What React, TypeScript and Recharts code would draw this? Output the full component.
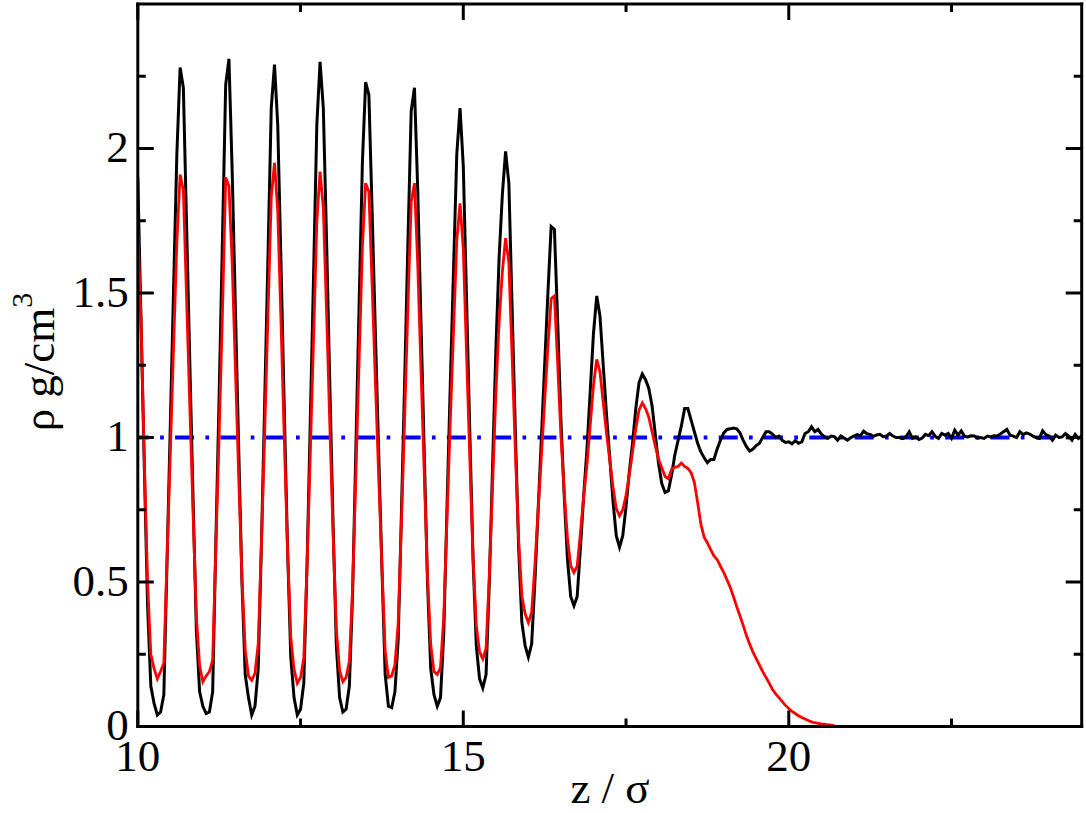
import React from "react";
import { LineChart, Line, XAxis, YAxis } from "recharts";

// sampling grid of the profile (z in units of sigma)
const zStart = 10;
const zStep = 0.05;

// total density, black curve (z = 10.00 ... 24.50)
const totalDensity = [
  1.9, 1.4, 0.9, 0.42, 0.14, 0.08, 0.04, 0.05, 0.11, 0.58,
  1.05, 1.52, 1.98, 2.28, 2.21, 1.73, 1.25, 0.78, 0.33, 0.12,
  0.07, 0.045, 0.05, 0.12, 0.65, 1.15, 1.68, 2.22, 2.31, 1.92,
  1.44, 0.96, 0.5, 0.18, 0.1, 0.04, 0.07, 0.2, 0.64, 1.13,
  1.63, 2.14, 2.29, 2.08, 1.6, 1.1, 0.62, 0.24, 0.1, 0.04,
  0.06, 0.15, 0.56, 1.06, 1.56, 2.08, 2.3, 2.14, 1.68, 1.18,
  0.7, 0.28, 0.1, 0.05, 0.06, 0.14, 0.46, 0.96, 1.46, 1.95,
  2.23, 2.185, 1.78, 1.36, 0.95, 0.55, 0.18, 0.07, 0.065, 0.12,
  0.3, 0.74, 1.2, 1.68, 2.13, 2.21, 1.86, 1.4, 0.95, 0.5,
  0.2, 0.11, 0.07, 0.1, 0.32, 0.76, 1.18, 1.58, 1.98, 2.14,
  1.94, 1.48, 1.02, 0.58, 0.28, 0.165, 0.133, 0.18, 0.5, 0.9,
  1.3, 1.62, 1.84, 1.99, 1.88, 1.45, 1.02, 0.62, 0.36, 0.28,
  0.24, 0.285, 0.5, 0.75, 1.0, 1.25, 1.5, 1.73, 1.72, 1.4,
  1.06, 0.8, 0.58, 0.45, 0.418, 0.45, 0.62, 0.8, 0.96, 1.16,
  1.36, 1.49, 1.42, 1.25, 1.08, 0.93, 0.78, 0.66, 0.62, 0.66,
  0.76, 0.88, 0.98, 1.1, 1.19, 1.22, 1.2, 1.17, 1.11, 1.01,
  0.91, 0.84, 0.81, 0.815, 0.87, 0.94, 0.99, 1.04, 1.1, 1.1,
  1.06, 1.02, 0.98, 0.95, 0.93, 0.913, 0.924, 0.924, 0.96, 0.99,
  1.015, 1.028, 1.03, 1.033, 1.03, 1.016, 0.99, 0.968, 0.953, 0.96,
  0.972, 0.98, 1.0, 1.02, 1.02, 1.012, 1.0, 1.005, 0.99, 0.983,
  0.985, 0.978, 0.989, 0.98, 0.985, 1.014, 1.02, 1.037, 1.02, 1.028,
  1.012, 1.002, 0.997, 1.005, 1.003, 0.991, 1.005, 0.998, 0.991, 0.999,
  1.005, 1.01, 1.006, 1.022, 1.013, 1.011, 1.004, 1.009, 1.011, 1.003,
  1.005, 1.014, 1.005, 1.0, 1.0, 0.996, 1.002, 1.02, 0.997, 1.002,
  0.993, 0.998, 1.011, 1.006, 1.02, 1.004, 0.997, 1.014, 1.008, 1.014,
  0.997, 1.025, 1.008, 1.023, 1.004, 1.002, 1.006, 1.005, 0.998, 1.0,
  0.997, 1.005, 1.002, 1.006, 1.005, 1.012, 1.02, 1.028, 1.008, 1.005,
  1.0, 1.02, 1.01, 1.016, 1.012, 1.005, 1.0, 0.997, 1.023, 1.01,
  1.005, 0.991, 1.008, 1.0, 1.002, 1.014, 1.005, 0.991, 1.011, 0.997,
  1.005,
];

// red curve, ends where it reaches zero (z = 10.00 ... 20.70)
const solidDensity = [
  1.72, 1.4, 0.92, 0.5, 0.25, 0.2, 0.165, 0.19, 0.22, 0.586,
  0.952, 1.318, 1.676, 1.91, 1.855, 1.478, 1.101, 0.732, 0.379, 0.21,
  0.155, 0.175, 0.19, 0.23, 0.626, 1.016, 1.429, 1.9, 1.87, 1.602,
  1.234, 0.866, 0.513, 0.267, 0.175, 0.16, 0.184, 0.287, 0.638, 1.028,
  1.426, 1.832, 1.95, 1.782, 1.398, 0.998, 0.614, 0.31, 0.198, 0.15,
  0.17, 0.236, 0.557, 0.949, 1.34, 1.747, 1.92, 1.794, 1.433, 1.041,
  0.665, 0.335, 0.194, 0.155, 0.17, 0.226, 0.479, 0.875, 1.27, 1.658,
  1.88, 1.85, 1.525, 1.193, 0.869, 0.553, 0.261, 0.17, 0.175, 0.214,
  0.357, 0.708, 1.075, 1.457, 1.816, 1.88, 1.601, 1.236, 0.879, 0.521,
  0.283, 0.19, 0.18, 0.204, 0.377, 0.723, 1.054, 1.368, 1.683, 1.81,
  1.653, 1.291, 0.93, 0.585, 0.349, 0.258, 0.234, 0.271, 0.522, 0.835,
  1.149, 1.4, 1.572, 1.69, 1.606, 1.28, 0.953, 0.649, 0.451, 0.39,
  0.36, 0.394, 0.557, 0.747, 0.936, 1.126, 1.315, 1.48, 1.49, 1.255,
  1.005, 0.814, 0.652, 0.557, 0.533, 0.555, 0.672, 0.796, 0.906, 1.043,
  1.181, 1.27, 1.227, 1.121, 1.015, 0.922, 0.829, 0.754, 0.729, 0.75,
  0.8, 0.87, 0.95, 1.03, 1.095, 1.12, 1.1, 1.07, 1.02, 0.97,
  0.925, 0.895, 0.865, 0.857, 0.89, 0.897, 0.9, 0.912, 0.9, 0.893,
  0.878, 0.845, 0.775, 0.7, 0.655, 0.635, 0.612, 0.59, 0.578, 0.555,
  0.533, 0.508, 0.482, 0.45, 0.415, 0.383, 0.35, 0.315, 0.285, 0.257,
  0.235, 0.212, 0.19, 0.17, 0.15, 0.128, 0.113, 0.1, 0.086, 0.073,
  0.062, 0.052, 0.045, 0.037, 0.031, 0.026, 0.021, 0.016, 0.013, 0.011,
  0.009, 0.008, 0.006, 0.005, 0.004,
];

// bulk density, blue dash-dot line
const bulkDensity = 1.0;

const xTicks = [10, 12.5, 15, 17.5, 20, 22.5];
const xLabelled = [10, 15, 20];
const yTicks = [0, 0.25, 0.5, 0.75, 1, 1.25, 1.5, 1.75, 2, 2.25];
const yLabelled = [0, 0.5, 1, 1.5, 2];

const FONT = '"Liberation Serif", "Times New Roman", serif';
const MAJOR = 16;
const MINOR = 8;

const data = totalDensity.map((v, i) => ({
  z: +(zStart + i * zStep).toFixed(2),
  total: v,
  solid: i < solidDensity.length ? solidDensity[i] : null,
  bulk: i === 0 || i === totalDensity.length - 1 ? bulkDensity : null,
}));

const frame = { stroke: "#000", strokeWidth: 3, strokeLinecap: "square" as const };

function BottomTick({ x, y, payload }: any) {
  const major = xLabelled.includes(payload.value);
  return (
    <g>
      <line x1={x} x2={x} y1={y} y2={y - (major ? MAJOR : MINOR)} stroke="#000" strokeWidth={3} />
      {major && (
        <text x={x} y={y + 44} textAnchor="middle" fontSize={45} fontFamily={FONT} fill="#000">
          {payload.value}
        </text>
      )}
    </g>
  );
}

function TopTick({ x, y, payload }: any) {
  const major = xLabelled.includes(payload.value);
  return <line x1={x} x2={x} y1={y} y2={y + (major ? MAJOR : MINOR)} stroke="#000" strokeWidth={3} />;
}

function LeftTick({ x, y, payload }: any) {
  const major = yLabelled.includes(payload.value);
  return (
    <g>
      <line x1={x} x2={x + (major ? MAJOR : MINOR)} y1={y} y2={y} stroke="#000" strokeWidth={3} />
      {major && (
        <text x={x - 9} y={y} dy="0.3em" textAnchor="end" fontSize={45} fontFamily={FONT} fill="#000">
          {payload.value}
        </text>
      )}
    </g>
  );
}

function RightTick({ x, y, payload }: any) {
  const major = yLabelled.includes(payload.value);
  return <line x1={x} x2={x - (major ? MAJOR : MINOR)} y1={y} y2={y} stroke="#000" strokeWidth={3} />;
}

export default function App() {
  return (
    <div style={{ position: "absolute", left: 0, top: 0, width: 1086, height: 813, background: "#fff" }}>
      <LineChart
        width={1086}
        height={813}
        data={data}
        margin={{ top: 3, right: 3.3, bottom: 56.5, left: 97.8 }}
      >
        <XAxis
          xAxisId="x"
          dataKey="z"
          type="number"
          domain={[10, 24.5]}
          ticks={xTicks}
          interval={0}
          allowDataOverflow
          height={30}
          tickSize={0}
          tickMargin={0}
          tickLine={false}
          axisLine={frame}
          tick={<BottomTick />}
        />
        <XAxis
          xAxisId="top"
          orientation="top"
          dataKey="z"
          type="number"
          domain={[10, 24.5]}
          ticks={xTicks}
          interval={0}
          allowDataOverflow
          height={1}
          tickSize={0}
          tickMargin={0}
          tickLine={false}
          axisLine={frame}
          tick={<TopTick />}
        />
        <YAxis
          yAxisId="y"
          type="number"
          domain={[0, 2.5]}
          ticks={yTicks}
          interval={0}
          allowDataOverflow
          width={40}
          tickSize={0}
          tickMargin={0}
          tickLine={false}
          axisLine={frame}
          tick={<LeftTick />}
        />
        <YAxis
          yAxisId="right"
          orientation="right"
          type="number"
          domain={[0, 2.5]}
          ticks={yTicks}
          interval={0}
          allowDataOverflow
          width={1}
          tickSize={0}
          tickMargin={0}
          tickLine={false}
          axisLine={frame}
          tick={<RightTick />}
        />
        <Line
          xAxisId="x"
          yAxisId="y"
          dataKey="bulk"
          type="linear"
          connectNulls
          stroke="#0000ff"
          strokeWidth={4}
          strokeDasharray="19 11.3 3.7 11.3"
          strokeDashoffset={8}
          dot={false}
          isAnimationActive={false}
        />
        <Line
          xAxisId="x"
          yAxisId="y"
          dataKey="total"
          type="linear"
          stroke="#000"
          strokeWidth={3}
          dot={false}
          isAnimationActive={false}
        />
        <Line
          xAxisId="x"
          yAxisId="y"
          dataKey="solid"
          type="linear"
          stroke="#ff0000"
          strokeWidth={2.8}
          dot={false}
          isAnimationActive={false}
        />
      </LineChart>
      <svg
        width={1086}
        height={813}
        style={{ position: "absolute", left: 0, top: 0, pointerEvents: "none" }}
      >
        <text x={610} y={803} textAnchor="middle" fontSize={45} fontFamily={FONT} fill="#000">
          z / σ
        </text>
        <text
          transform="translate(54, 362) rotate(-90)"
          textAnchor="middle"
          fontSize={45}
          fontFamily={FONT}
          fill="#000"
        >
          ρ g/cm
          <tspan dy={-22} fontSize={30}>3</tspan>
        </text>
      </svg>
    </div>
  );
}
